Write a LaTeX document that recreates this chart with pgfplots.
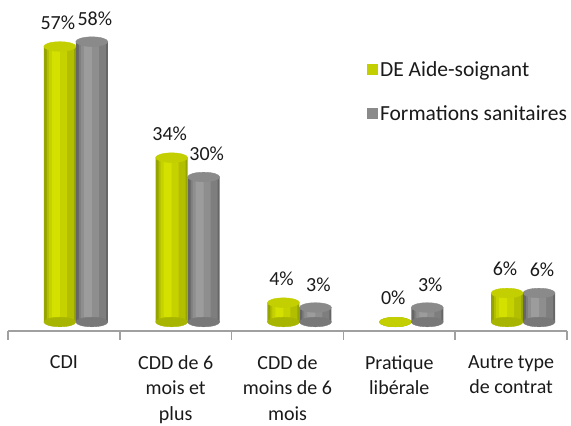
\documentclass[border=0pt]{standalone}
\usepackage{pgfplots}
\usepackage{pgfplotstable}
\pgfplotsset{compat=1.18}
\usepackage{fontspec}
\setmainfont{Carlito}
\definecolor{g0}{HTML}{96A400}
\definecolor{g1}{HTML}{B2BF00}
\definecolor{g2}{HTML}{C6D200}
\definecolor{g3}{HTML}{D4E000}
\definecolor{gT}{HTML}{C3CF00}
\definecolor{gB}{HTML}{A8B500}
\definecolor{y0}{HTML}{666666}
\definecolor{y1}{HTML}{7E7E7E}
\definecolor{y2}{HTML}{8E8E8E}
\definecolor{y3}{HTML}{9C9C9C}
\definecolor{yT}{HTML}{8A8A8A}
\definecolor{yB}{HTML}{787878}
\definecolor{axg}{HTML}{A0A0A0}
\definecolor{txt}{HTML}{1A1A1A}
\pgfplotstableread{
x y
-0.036 57
0.964 34
1.964 4
2.964 0
3.964 6
}\green
\pgfplotstableread{
x y
0.25 58
1.25 30
2.25 3
3.25 3
4.25 6
}\gray
\pgfplotsset{
  layer/.style n args={3}{forget plot, ybar, bar width=#1, bar shift=#2, draw=none, fill=#3},
  cap/.style={forget plot, only marks, color=#1, mark=*, mark size=16pt, mark options={yscale=0.3, fill=#1, draw=none}},
}
\begin{document}
\begin{tikzpicture}
\useasboundingbox (0,0) rectangle (571pt,426pt);
\begin{axis}[
  at={(8pt,95pt)}, anchor=south west,
  scale only axis, width=559pt, height=299pt,
  xmin=-0.5, xmax=4.5, ymin=-1.86, ymax=60,
  axis x line=bottom, axis y line=none,
  axis line style={-, draw=axg, line width=1.6pt},
  xtick={0,1,2,3,4},
  xticklabels={CDI,{CDD de 6\\mois et\\plus},{CDD de\\moins de 6\\mois},{Pratique\\libérale},{Autre type\\de contrat}},
  minor xtick={-0.5,0.5,1.5,2.5,3.5,4.5},
  major tick length=0pt, minor tick length=9pt,
  tick align=outside,
  minor tick style={draw=axg, line width=1.6pt},
  xticklabel style={font=\fontsize{20}{25.3}\selectfont, align=center, text=txt, yshift=-21pt},
  clip=false,
  legend style={at={(0.642,0.91)}, anchor=north west, draw=none, fill=none,
    font=\fontsize{21.5}{25}\selectfont, text=txt, row sep=24pt, inner sep=0pt},
  legend cell align=left,
  legend image code/.code={\fill[draw=none,#1] (0pt,-5.5pt) rectangle (11pt,5.5pt);},
  every node near coord/.append style={font=\fontsize{20}{24}\selectfont, text=txt, anchor=south, inner sep=0pt},
]
\addlegendimage{fill=gT}
\addlegendentry{DE Aide-soignant}
\addlegendimage{fill=yT}
\addlegendentry{Formations sanitaires}
% green
\addplot[cap=gB] table[x=x,y expr=0] {\green};
\addplot[layer={32pt}{0pt}{g0}] table[x=x,y=y] {\green};
\addplot[layer={27pt}{0.5pt}{g1}] table[x=x,y=y] {\green};
\addplot[layer={18pt}{-2pt}{g2}] table[x=x,y=y] {\green};
\addplot[layer={8pt}{-4pt}{g3}] table[x=x,y=y] {\green};
\addplot[cap=gT,
  nodes near coords={\pgfmathprintnumber[assume math mode=true]{\pgfplotspointmeta}\%},
  every node near coord/.append style={yshift=17pt, xshift=-2pt, text=txt}] table[x=x,y=y] {\green};
% gray
\addplot[cap=yB] table[x=x,y expr=0] {\gray};
\addplot[layer={32pt}{0pt}{y0}] table[x=x,y=y] {\gray};
\addplot[layer={27pt}{0.5pt}{y1}] table[x=x,y=y] {\gray};
\addplot[layer={18pt}{-2pt}{y2}] table[x=x,y=y] {\gray};
\addplot[layer={8pt}{-4pt}{y3}] table[x=x,y=y] {\gray};
\addplot[cap=yT,
  nodes near coords={\pgfmathprintnumber[assume math mode=true]{\pgfplotspointmeta}\%},
  every node near coord/.append style={yshift=16pt, xshift=3pt, text=txt}] table[x=x,y=y] {\gray};
\end{axis}
\end{tikzpicture}
\end{document}
